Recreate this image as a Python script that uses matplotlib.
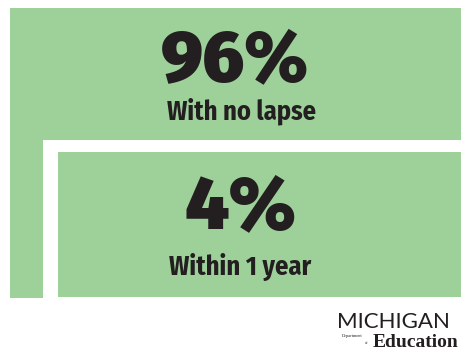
import matplotlib
matplotlib.use("Agg")
import matplotlib.pyplot as plt
from matplotlib import font_manager as fm
from matplotlib.patches import Rectangle

# data
shares = [96, 4]
labels = ["With no lapse", "Within 1 year"]

GREEN = "#9ed19a"
INK = "#231f20"


def pick(cands, weight):
    # first family that really has a static upright face of this weight
    for c in cands:
        faces = [f for f in fm.fontManager.ttflist
                 if f.name == c and f.style == "normal" and f.weight == weight
                 and "Variable" not in f.fname and "[" not in f.fname]
        if faces:
            return fm.FontProperties(fname=faces[0].fname)
    return fm.FontProperties(family="DejaVu Sans", weight="bold")


num_fp = pick(["Source Sans Pro", "Fira Sans", "Lato", "Roboto", "Open Sans"], 900)
lab_fp = pick(["Fira Sans Condensed", "PT Sans Narrow", "Roboto Condensed",
               "Archivo Narrow", "Liberation Sans Narrow"], 700)
logo_fp = pick(["Montserrat", "Raleway", "Lato", "Open Sans"], 400)
serif = ["Liberation Serif", "DejaVu Serif"]

fig = plt.figure(figsize=(4.61, 3.5), dpi=100)
ax = fig.add_axes([0, 0, 1, 1])
ax.set_xlim(0, 461)
ax.set_ylim(350, 0)
ax.axis("off")

# outer block (96%), white gutter, inner block (4%)
ax.add_patch(Rectangle((10, 8), 451, 290, facecolor=GREEN, lw=0))
ax.add_patch(Rectangle((43, 140), 418, 158, facecolor="white", lw=0))
ax.add_patch(Rectangle((58, 152), 403, 145, facecolor=GREEN, lw=0))

big = dict(fontproperties=num_fp, color=INK, ha="center", va="baseline")
small = dict(fontproperties=lab_fp, color=INK, ha="center", va="baseline")

t = ax.text(235, 82, f"{shares[0]}%", **big)
t.set_fontsize(52)
t = ax.text(241, 119, labels[0], **small)
t.set_fontsize(19)
t = ax.text(240, 228, f"{shares[1]}%", **big)
t.set_fontsize(55)
t = ax.text(240, 275, labels[1], **small)
t.set_fontsize(19)

# logo
t = ax.text(337, 328, "MICHIGAN", fontproperties=logo_fp, color=INK,
            ha="left", va="baseline")
t.set_fontsize(16)
ax.text(342, 337, "Department", fontsize=3.2, family=serif, color=INK,
        ha="left", va="baseline")
ax.text(365, 344, "of", fontsize=3.2, family=serif, color=INK,
        ha="left", va="baseline")
ax.text(373, 347, "Education", fontsize=14, family=serif, weight="bold",
        color=INK, ha="left", va="baseline")

fig.savefig("out.png", dpi=100)
